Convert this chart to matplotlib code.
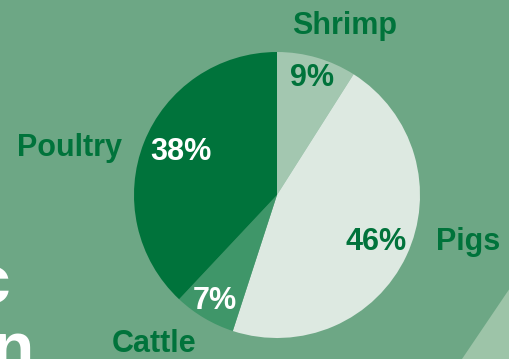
import numpy as np
import matplotlib.pyplot as plt
from matplotlib.patches import Polygon

# share of antibiotic use by animal type
animals = ['Shrimp', 'Pigs', 'Cattle', 'Poultry']
shares = [9, 46, 7, 38]
slice_colors = ['#a3c7b0', '#dde9e1', '#3f9669', '#00733b']
pct_colors = ['#00733b', '#00733b', 'white', 'white']

bg = '#6da785'
dark = '#00733b'

# label placement in image pixels (x, y from top)
name_pos = [(345, 26), (468, 242), (154, 344), (70, 148)]
pct_pos = [(312, 78), (376, 242), (215, 301), (181, 152)]

H = 359
fig = plt.figure(figsize=(5.1, 3.59), dpi=100, facecolor=bg)
ax = fig.add_axes([0, 0, 1, 1])
ax.set_facecolor(bg)

# light band in the lower right corner
ax.add_patch(Polygon([(510, H - 288), (462, 0), (510, 0)], closed=True,
                     facecolor='#9dc4a8', edgecolor='none'))

ax.pie(shares, colors=slice_colors, startangle=90, counterclock=False,
       center=(277, H - 195), radius=143, frame=True,
       wedgeprops=dict(linewidth=0))

font = dict(family=['Liberation Sans', 'DejaVu Sans'], fontweight='bold', fontsize=22)
for name, (x, y) in zip(animals, name_pos):
    ax.text(x, H - y, name, color=dark, ha='center', va='center', **font)
for val, col, (x, y) in zip(shares, pct_colors, pct_pos):
    ax.text(x, H - y, f'{val}%', color=col, ha='center', va='center', **font)

# cut-off title letters at the left edge (cropped in the original too)
big = dict(family=['Liberation Sans', 'DejaVu Sans'], fontweight='bold', fontsize=50, color='white')
ax.text(10, H - 285, 'c', ha='right', va='center', **big)
ax.text(34, H - 352, 'n', ha='right', va='center', **big)

ax.set_xlim(0, 510)
ax.set_ylim(0, H)
ax.set_axis_off()

fig.savefig('out.png', dpi=100, facecolor=bg)
